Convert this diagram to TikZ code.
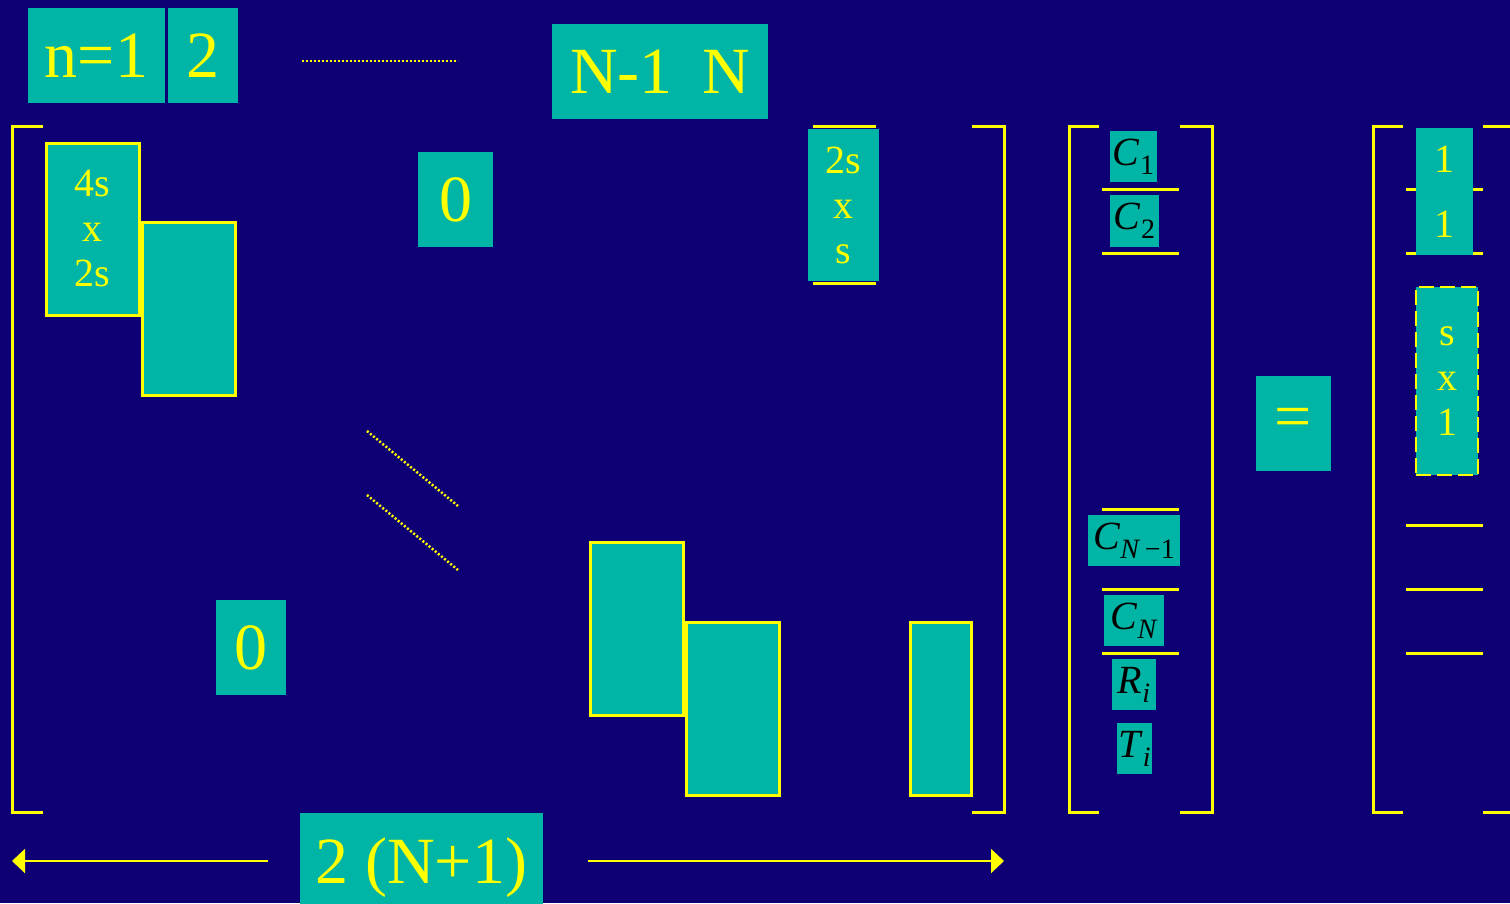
\documentclass[tikz,border=0pt]{standalone}
\usepackage{fontspec}
\setmainfont{Liberation Serif}
\usetikzlibrary{arrows.meta}
\definecolor{slidenavy}{HTML}{0E0074}
\definecolor{slideteal}{HTML}{00B5A5}
\definecolor{slideyellow}{HTML}{FFFF00}
\newcommand{\bigtxt}{\fontsize{66}{70}\selectfont}
\newcommand{\midtxt}{\fontsize{40}{45}\selectfont}
\newcommand{\subtxt}{\fontsize{28}{30}\selectfont}
\newcommand{\ctxt}[2]{\textit{#1}\raisebox{-9pt}{\subtxt #2}}
\tikzset{
  tealbox/.style={fill=slideteal, inner sep=0pt, outer sep=0pt, anchor=north west, text=slideyellow, align=center},
  edged/.style={tealbox, draw=slideyellow, line width=3pt},
  cbox/.style={tealbox, text=black, font=\midtxt},
  yline/.style={draw=slideyellow, line width=3pt},
  dotline/.style={draw=slideyellow, line width=2.5pt, dash pattern=on 2pt off 2pt},
  sizearrow/.style={draw=slideyellow, line width=2pt, -{Triangle[length=13pt,width=24pt]}}
}
\begin{document}
\begin{tikzpicture}[x=1pt, y=-1pt]
    \fill[slidenavy] (0,0) rectangle (1510,903);                                          % Hintergrund
    \useasboundingbox (0,0) rectangle (1510,903);
    % Spaltenkoepfe
    \node[tealbox, font=\bigtxt, minimum width=137pt, minimum height=95pt] (colone) at (28,8) {n=1};
    \node[tealbox, font=\bigtxt, minimum width=70pt, minimum height=95pt] (coltwo) at (168,8) {2};
    \node[tealbox, font=\bigtxt, minimum width=216pt, minimum height=95pt] (collast) at (552,24) {N-1\hspace{0.45em}N};
    \draw[dotline] (302,61) -- (458,61);                                                  % Punkte
    % grosse Matrix
    \draw[yline] (43,126) -- (12,126) -- (12,812) -- (43,812);                            % Klammer links
    \draw[yline] (972,126) -- (1004,126) -- (1004,812) -- (972,812);                      % Klammer rechts
    \node[edged, font=\midtxt, minimum width=93pt, minimum height=172pt] (blkfirst) at (46,143) {4s\\x\\2s};
    \node[edged, minimum width=93pt, minimum height=173pt] (blksecond) at (142,222) {};
    \node[tealbox, font=\bigtxt, minimum width=75pt, minimum height=95pt] (zerotop) at (418,152) {0};
    \node[tealbox, font=\midtxt, minimum width=71pt, minimum height=152pt] (blkcorner) at (808,129) {2s\\x\\s};
    \draw[yline] ([xshift=5pt,yshift=3pt]blkcorner.north west) -- ([xshift=-3pt,yshift=3pt]blkcorner.north east);
    \draw[yline] ([xshift=5pt,yshift=-2pt]blkcorner.south west) -- ([xshift=-3pt,yshift=-2pt]blkcorner.south east);
    \draw[dotline] (367,431) -- (458,506);                                                % Diagonale
    \draw[dotline] (367,495) -- (458,570);
    \node[tealbox, font=\bigtxt, minimum width=70pt, minimum height=95pt] (zerobottom) at (216,600) {0};
    \node[edged, minimum width=93pt, minimum height=173pt] (blkpenult) at (590,542) {};
    \node[edged, minimum width=93pt, minimum height=173pt] (blklast) at (686,622) {};
    \node[edged, minimum width=61pt, minimum height=173pt] (blkextra) at (910,622) {};
    % Unbekannte
    \draw[yline] (1099,126) -- (1069,126) -- (1069,812) -- (1099,812);
    \draw[yline] (1180,126) -- (1212,126) -- (1212,812) -- (1180,812);
    \foreach \y in {189,253,509,589,653}
        \draw[yline] (1102,\y) -- (1179,\y);                                              % Trenner
    \node[cbox, minimum width=47pt, minimum height=51pt] (cone) at (1110,131) {\ctxt{C}{1}};
    \node[cbox, minimum width=49pt, minimum height=52pt] (ctwo) at (1110,195) {\ctxt{C}{2}};
    \node[cbox, minimum width=92pt, minimum height=51pt] (cprev) at (1088,515) {\ctxt{C}{\textit{N}\,\char"2212 1}};
    \node[cbox, minimum width=60pt, minimum height=51pt] (clast) at (1104,595) {\ctxt{C}{\textit{N}}};
    \node[cbox, minimum width=44pt, minimum height=51pt] (rin) at (1112,659) {\ctxt{R}{\textit{i}}};
    \node[cbox, minimum width=35pt, minimum height=51pt] (tin) at (1117,723) {\ctxt{T}{\textit{i}}};
    % rechte Seite
    \node[tealbox, font=\bigtxt, minimum width=75pt, minimum height=95pt] (equals) at (1256,376) {=};
    \draw[yline] (1403,126) -- (1373,126) -- (1373,812) -- (1403,812);
    \draw[yline] (1483,126) -- (1512,126);
    \draw[yline] (1483,812) -- (1512,812);
    \foreach \y in {189,253,525,589,653}
        \draw[yline] (1406,\y) -- (1483,\y);
    \node[tealbox, font=\midtxt, minimum width=57pt, minimum height=127pt] (ones) at (1416,128) {1\\[20pt]1};
    \node[tealbox, font=\midtxt, draw=slideyellow, line width=2.5pt, dash pattern=on 15pt off 6pt,
          minimum width=62pt, minimum height=188pt] (sxone) at (1416,287) {s\\x\\1};
    % Breite
    \node[tealbox, font=\bigtxt, minimum width=243pt, minimum height=110pt] (width) at (300,813) {2 (N+1)};
    \coordinate (lefttail) at (268,861);
    \coordinate (lefthead) at (12,861);
    \coordinate (righttail) at (588,861);
    \coordinate (righthead) at (1004,861);
    \draw[sizearrow] (lefttail) -- (lefthead);
    \draw[sizearrow] (righttail) -- (righthead);
\end{tikzpicture}
\end{document}
